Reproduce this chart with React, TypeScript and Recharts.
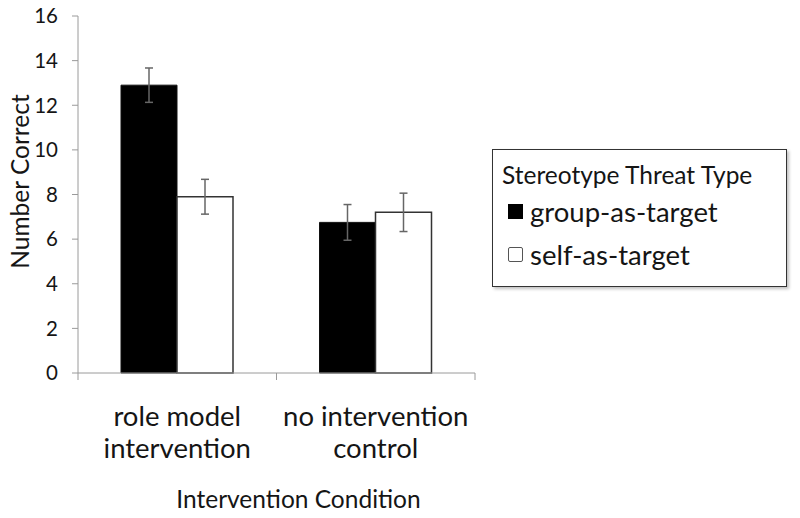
import { BarChart, Bar, XAxis, YAxis, ErrorBar, Legend, Label } from "recharts";

const conditions = ["role model\nintervention", "no intervention\ncontrol"];
const groupMeans = [12.9, 6.75];
const groupErr = [0.77, 0.8];
const selfMeans = [7.9, 7.2];
const selfErr = [0.78, 0.86];
const yTicks = [0, 2, 4, 6, 8, 10, 12, 14, 16];

const data = conditions.map((c, i) => ({
  condition: c,
  group: groupMeans[i],
  groupErr: groupErr[i],
  self: selfMeans[i],
  selfErr: selfErr[i],
}));

const FONT = "Lato, 'Open Sans', sans-serif";
const TEXT = "#151515";
const AXIS = "#9a9a9a";

function CategoryTick({ x, y, payload }: any) {
  const lines = String(payload.value).split("\n");
  const half = payload.offset ?? 0;
  return (
    <g>
      <line x1={x - half} x2={x - half} y1={y} y2={y + 7} stroke={AXIS} />
      <line x1={x + half} x2={x + half} y1={y} y2={y + 7} stroke={AXIS} />
      {lines.map((line, i) => (
        <text
          key={i}
          x={x}
          y={y + 42 + i * 32}
          textAnchor="middle"
          dominantBaseline="central"
          fontSize={27.5}
          fontFamily={FONT}
          fill={TEXT}
        >
          {line}
        </text>
      ))}
    </g>
  );
}

function LegendBox({ payload }: any) {
  return (
    <div
      style={{
        border: "1.5px solid #333",
        boxSizing: "border-box",
        width: 295,
        height: 138,
        padding: "10px 0 0 9px",
        fontFamily: FONT,
        color: TEXT,
        background: "#fff",
        boxShadow: "2px 2px 3px rgba(0,0,0,0.25)",
      }}
    >
      <div style={{ fontSize: 24.5, lineHeight: "30px", marginBottom: 0 }}>
        Stereotype Threat Type
      </div>
      {(payload ?? []).map((p: any) => (
        <div
          key={p.value}
          style={{ display: "flex", alignItems: "center", height: 43, fontSize: 27.5 }}
        >
          <span
            style={{
              display: "inline-block",
              width: 15,
              height: 15,
              boxSizing: "border-box",
              background: p.color,
              border: p.color === "#000" ? "none" : "1.5px solid #555",
              borderRadius: p.color === "#000" ? 0 : 2,
              marginLeft: 6,
              marginRight: 7,
            }}
          />
          {p.value}
        </div>
      ))}
    </div>
  );
}

export default function App() {
  return (
    <div style={{ position: "absolute", left: 0, top: 0, width: 800, height: 518, background: "#fff" }}>
      <BarChart
        width={800}
        height={518}
        data={data}
        margin={{ top: 16, right: 325, bottom: 45, left: 0 }}
        barCategoryGap={43}
        barGap={0}
      >
        <XAxis
          dataKey="condition"
          height={100}
          interval={0}
          tickLine={false}
          tickSize={0}
          tickMargin={0}
          axisLine={{ stroke: AXIS }}
          tick={<CategoryTick />}
        >
          <Label
            content={({ viewBox }: any) => (
              <text
                x={viewBox.x + viewBox.width / 2 + 22}
                y={viewBox.y + 125}
                textAnchor="middle"
                dominantBaseline="central"
                fontSize={24.5}
                fontFamily={FONT}
                fill={TEXT}
              >
                Intervention Condition
              </text>
            )}
          />
        </XAxis>
        <YAxis
          width={78}
          domain={[0, 16]}
          ticks={yTicks}
          interval={0}
          tickSize={6}
          tickMargin={14}
          axisLine={{ stroke: AXIS }}
          tickLine={{ stroke: AXIS }}
          tick={{ fontSize: 20.5, fontFamily: FONT, fill: TEXT }}
        >
          <Label
            content={({ viewBox }: any) => (
              <text
                transform={`translate(19, ${viewBox.y + viewBox.height / 2 - 13}) rotate(-90)`}
                textAnchor="middle"
                dominantBaseline="central"
                fontSize={24.5}
                fontFamily={FONT}
                fill={TEXT}
              >
                Number Correct
              </text>
            )}
          />
        </YAxis>
        <Legend
          layout="vertical"
          align="center"
          verticalAlign="middle"
          wrapperStyle={{ left: 492, top: 149, width: 295, height: 138 }}
          content={<LegendBox />}
        />
        <Bar dataKey="group" name="group-as-target" fill="#000" stroke="#111" isAnimationActive={false}>
          <ErrorBar dataKey="groupErr" width={4} stroke="#666" strokeWidth={1.5} />
        </Bar>
        <Bar dataKey="self" name="self-as-target" fill="#fff" stroke="#333" strokeWidth={1.5} isAnimationActive={false}>
          <ErrorBar dataKey="selfErr" width={4} stroke="#666" strokeWidth={1.5} />
        </Bar>
      </BarChart>
    </div>
  );
}
